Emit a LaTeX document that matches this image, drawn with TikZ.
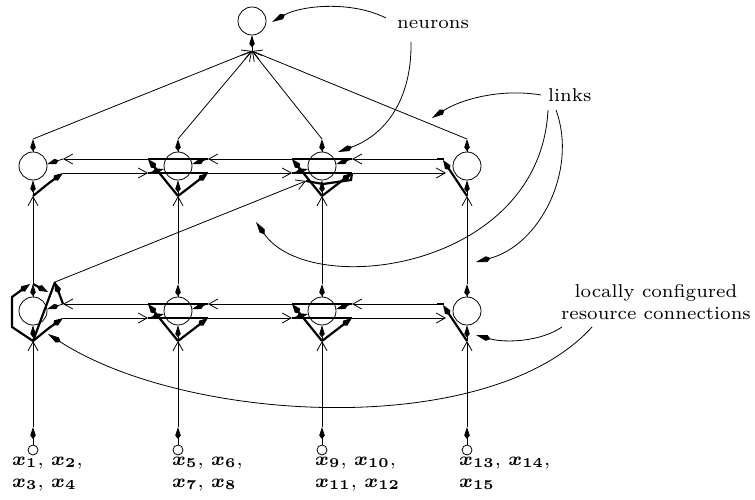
\documentclass[tikz,border=0pt]{standalone}
\usetikzlibrary{arrows.meta,calc}
\newcommand\lab[1]{\scalebox{2.65}{\fontsize{7}{8.4}\selectfont #1}}
\newcommand\mlab[1]{\scalebox{2.7}{\fontsize{7}{8.2}\selectfont\boldmath #1}}
\begin{document}
\begin{tikzpicture}[x=1pt,y=-1pt,
  neuron/.style={circle,draw,line width=0.8pt,minimum size=28pt,inner sep=0pt},
  inport/.style={circle,draw,line width=0.8pt,minimum size=10pt,inner sep=0pt},
  link/.style={line width=0.8pt,-{Straight Barb[length=9pt,width=10pt]}},
  kt/.style={line width=0.8pt,-{Kite[length=12pt,width=5.5pt,inset=3.5pt]}},
  res/.style={line width=2.2pt},
  resk/.style={line width=2.2pt,-{Kite[length=12pt,width=6.5pt,inset=3.5pt]}},
  call/.style={line width=0.8pt,-{Kite[length=15pt,width=6pt,inset=4pt]}},
  lbl/.style={inner sep=0pt}]
\useasboundingbox (0,0) rectangle (755,500);

% neurons
\node[neuron] (top) at (252,21) {};
\foreach \n/\xx in {a/33,b/178,c/322,d/467}{
  \node[neuron] (\n1) at (\xx,166) {};
  \node[neuron] (\n2) at (\xx,311) {};
  \node[inport] (\n0) at (\xx,450) {};
  \coordinate (\n0-T) at ($(\n0)+(0,-23)$);
}
\foreach \n in {a1,b1,c1,d1,a2,b2,c2,d2}{
  \coordinate (\n-T) at ($(\n)+(0,-27)$);
  \coordinate (\n-B) at ($(\n)+(0,30)$);
  \coordinate (\n-LU) at ($(\n)+(-30,-7)$);
  \coordinate (\n-LL) at ($(\n)+(-30,7)$);
  \coordinate (\n-RU) at ($(\n)+(30,-7)$);
  \coordinate (\n-RL) at ($(\n)+(30,7)$);
}
\coordinate (d1-LLx) at ($(d1)+(-21,7)$);
\coordinate (d2-LLx) at ($(d2)+(-21,7)$);
\coordinate (top-B) at (252,51);
\coordinate (c1-D) at ($(c1)+(-16,15)$);
\coordinate (a2-P) at ($(a2)+(22,-29)$);

% links to top neuron
\foreach \n in {a1,b1,c1,d1} \draw[link] (\n-T) -- (top-B);
\draw[kt] (top-B) -- (top.south);

% per-neuron input/output kites
\foreach \n in {a1,b1,c1,d1,a2,b2,c2,d2}{
  \draw[kt] (\n.north) -- (\n-T);
  \draw[kt] (\n-B) -- (\n.south);
}

% vertical links
\foreach \c in {a,b,c,d}{
  \draw[link] (\c2-T) -- (\c1-B);
  \draw[kt] (\c0.north) -- (\c0-T);
  \draw[link] (\c0-T) -- (\c2-B);
}

% horizontal links
\foreach \r in {1,2}{
  \draw[link] (a\r-RL) -- (b\r-LL);
  \draw[link] (b\r-RL) -- (c\r-LL);
  \draw[link] (c\r-RL) -- (d\r-LLx);
  \draw[link] (d\r-LU) -- (c\r-RU);
  \draw[link] (c\r-LU) -- (b\r-RU);
  \draw[link] (b\r-LU) -- (a\r-RU);
}

% diagonal link
\draw[link] (a2-P) -- (c1-D);

% resource connections: left column
\foreach \n in {a1,a2}{
  \draw[resk] (\n-B) -- ($(\n)+(16,17)$) -- (\n-RL);
  \draw[kt] (\n-RU) -- (\n.8);
}
% middle columns
\foreach \n in {b1,c1,b2,c2}{
  \draw[res] (\n-RU) -- (\n-LU);
  \draw[res] (\n-LL) -- (\n-RL);
  \draw[resk] (\n-B) -- (\n-LU);
  \draw[resk] (\n-B) -- (\n-RL);
  \draw[kt] (\n-RU) -- (\n.8);
  \draw[kt] (\n-LL) -- (\n.192);
}
% right column
\foreach \n in {d1,d2}{
  \draw[resk] (\n-B) -- ($(\n)+(-24,-6)$);
  \draw[res] ($(\n)+(-23,-7)$) -- (\n-LU);
}
% special configuration at c1
\draw[res] (c1-D) -- ($(c1)+(1,18)$) -- ($(c1)+(29,14)$) -- ($(c1)+(30,7)$);
% special configuration at a2
\draw[res] (a2-B) -- (a2-P);
\draw[resk] (a2-RU) -- (a2-P);
\draw[resk] (a2-B) -- ($(a2)+(-21,16)$) -- ($(a2)+(-21,-14)$) -- ($(a2)+(-3,-27)$);
\draw[resk] (a2-T) -- ($(a2)+(15,-19)$);

% labels
\node[lbl,anchor=base west] (tn) at (397,29) {\lab{neurons}};
\node[lbl,anchor=base west] (tl) at (548,102) {\lab{links}};
\node[lbl,anchor=base] (tr) at (656,297) {\lab{\begin{tabular}[t]{@{}c@{}}locally configured\\resource connections\end{tabular}}};

\node[lbl,anchor=base west] (l1) at (12,465) {\mlab{\begin{tabular}[t]{@{}l@{}}$x_1$, $x_2$,\\$x_3$, $x_4$\end{tabular}}};
\node[lbl,anchor=base west] (l2) at (172,465) {\mlab{\begin{tabular}[t]{@{}l@{}}$x_5$, $x_6$,\\$x_7$, $x_8$\end{tabular}}};
\node[lbl,anchor=base west] (l3) at (315,465) {\mlab{\begin{tabular}[t]{@{}l@{}}$x_9$, $x_{10}$,\\$x_{11}$, $x_{12}$\end{tabular}}};
\node[lbl,anchor=base west] (l4) at (459,465) {\mlab{\begin{tabular}[t]{@{}l@{}}$x_{13}$, $x_{14}$,\\$x_{15}$\end{tabular}}};

% callouts
\coordinate (n1s) at (386,18);  \coordinate (n1e) at (272,22);
\coordinate (n2s) at (411,42);  \coordinate (n2e) at (338,152);
\coordinate (k1s) at (541,95);  \coordinate (k1e) at (432,118);
\coordinate (k2s) at (548,110); \coordinate (k2e) at (256,222);
\coordinate (k3s) at (556,110); \coordinate (k3e) at (476,262);
\coordinate (r1s) at (562,327); \coordinate (r1e) at (476,335);
\coordinate (r2s) at (592,327); \coordinate (r2e) at (48,334);
\draw[call] (n1s) .. controls (350,0) and (300,6) .. (n1e);
\draw[call] (n2s) .. controls (412,100) and (385,135) .. (n2e);
\draw[call] (k1s) .. controls (500,88) and (460,100) .. (k1e);
\draw[call] (k2s) .. controls (540,270) and (310,300) .. (k2e);
\draw[call] (k3s) .. controls (578,170) and (540,245) .. (k3e);
\draw[call] (r1s) .. controls (540,342) and (505,343) .. (r1e);
\draw[call] (r2s) .. controls (490,440) and (188,424) .. (r2e);
\end{tikzpicture}
\end{document}
